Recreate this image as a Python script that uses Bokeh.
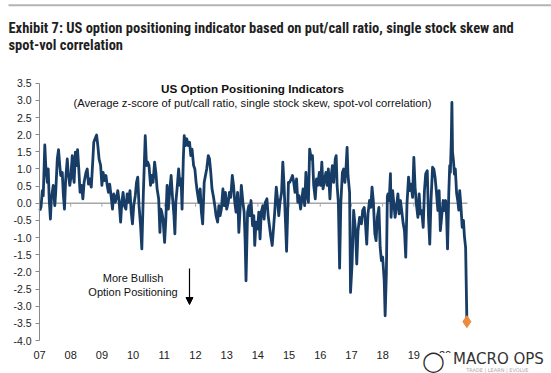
from bokeh.plotting import figure
from bokeh.models import Range1d, FixedTicker, PrintfTickFormatter, Label, Arrow, NormalHead, BoxAnnotation
from bokeh.embed import file_html
from bokeh.resources import INLINE

# ---- data (decimal year, z-score) ----
dates = [
    2007.01, 2007.05, 2007.09, 2007.12, 2007.17, 2007.20, 2007.25, 2007.28, 2007.31, 2007.35,
    2007.38, 2007.44, 2007.49, 2007.52, 2007.57, 2007.61, 2007.65, 2007.68, 2007.73, 2007.76,
    2007.80, 2007.84, 2007.89, 2007.92, 2007.97, 2008.00, 2008.05, 2008.08, 2008.11, 2008.15,
    2008.19, 2008.22, 2008.26, 2008.30, 2008.35, 2008.39, 2008.43, 2008.49, 2008.53, 2008.57,
    2008.61, 2008.66, 2008.70, 2008.74, 2008.78, 2008.83, 2008.87, 2008.91, 2008.96, 2009.00,
    2009.04, 2009.08, 2009.13, 2009.17, 2009.21, 2009.25, 2009.30, 2009.34, 2009.38, 2009.43,
    2009.47, 2009.51, 2009.55, 2009.60, 2009.64, 2009.68, 2009.72, 2009.77, 2009.81, 2009.85,
    2009.90, 2009.94, 2009.98, 2010.02, 2010.07, 2010.11, 2010.15, 2010.19, 2010.24, 2010.28,
    2010.33, 2010.39, 2010.43, 2010.47, 2010.51, 2010.56, 2010.60, 2010.64, 2010.69, 2010.73,
    2010.77, 2010.82, 2010.86, 2010.89, 2010.92, 2010.96, 2011.01, 2011.05, 2011.09, 2011.13,
    2011.18, 2011.22, 2011.26, 2011.31, 2011.34, 2011.37, 2011.41, 2011.46, 2011.50, 2011.54,
    2011.57, 2011.61, 2011.64, 2011.68, 2011.72, 2011.77, 2011.81, 2011.85, 2011.89, 2011.94,
    2011.98, 2012.02, 2012.06, 2012.11, 2012.15, 2012.19, 2012.23, 2012.28, 2012.32, 2012.36,
    2012.41, 2012.45, 2012.49, 2012.53, 2012.58, 2012.62, 2012.66, 2012.71, 2012.75, 2012.79,
    2012.83, 2012.88, 2012.92, 2012.96, 2013.00, 2013.05, 2013.09, 2013.13, 2013.18, 2013.22,
    2013.26, 2013.30, 2013.35, 2013.39, 2013.43, 2013.47, 2013.52, 2013.56, 2013.59, 2013.62,
    2013.67, 2013.71, 2013.74, 2013.78, 2013.83, 2013.87, 2013.90, 2013.94, 2013.99, 2014.03,
    2014.07, 2014.11, 2014.16, 2014.20, 2014.24, 2014.29, 2014.33, 2014.37, 2014.41, 2014.46,
    2014.50, 2014.54, 2014.59, 2014.63, 2014.67, 2014.71, 2014.76, 2014.80, 2014.84, 2014.89,
    2014.92, 2014.95, 2014.98, 2015.02, 2015.07, 2015.11, 2015.15, 2015.19, 2015.24, 2015.28,
    2015.32, 2015.37, 2015.41, 2015.45, 2015.50, 2015.54, 2015.58, 2015.62, 2015.66, 2015.71,
    2015.75, 2015.79, 2015.84, 2015.88, 2015.92, 2015.97, 2016.01, 2016.05, 2016.09, 2016.14,
    2016.18, 2016.22, 2016.26, 2016.31, 2016.35, 2016.39, 2016.43, 2016.48, 2016.51, 2016.54,
    2016.58, 2016.62, 2016.66, 2016.71, 2016.75, 2016.79, 2016.83, 2016.86, 2016.89, 2016.94,
    2016.97, 2017.02, 2017.07, 2017.13, 2017.17, 2017.21, 2017.26, 2017.32, 2017.36, 2017.41,
    2017.45, 2017.49, 2017.53, 2017.58, 2017.62, 2017.66, 2017.70, 2017.75, 2017.79, 2017.83,
    2017.88, 2017.92, 2017.96, 2018.00, 2018.05, 2018.08, 2018.12, 2018.15, 2018.17, 2018.21,
    2018.25, 2018.27, 2018.32, 2018.36, 2018.40, 2018.44, 2018.49, 2018.53, 2018.57, 2018.61,
    2018.66, 2018.70, 2018.74, 2018.78, 2018.83, 2018.87, 2018.91, 2018.96, 2019.00, 2019.04,
    2019.08, 2019.13, 2019.17, 2019.21, 2019.25, 2019.30, 2019.34, 2019.38, 2019.43, 2019.47,
    2019.51, 2019.55, 2019.60, 2019.64, 2019.68, 2019.72, 2019.77, 2019.81, 2019.85, 2019.89,
    2019.94, 2019.98, 2020.02, 2020.05, 2020.08, 2020.12, 2020.15, 2020.17, 2020.20, 2020.22,
    2020.24, 2020.27, 2020.30, 2020.33, 2020.37, 2020.41, 2020.44, 2020.47, 2020.51, 2020.55,
    2020.59, 2020.62, 2020.66, 2020.70,
]
zscores = [
    -0.21, -0.10, 0.37, 0.22, 1.70, 1.10, 0.61, 1.00, 0.13, -0.46,
    0.13, 0.52, -0.07, 0.32, 1.29, 1.56, 1.10, 0.81, 0.90, 0.32,
    -0.17, 0.71, 1.29, 0.90, 0.52, 0.71, 1.39, 0.81, 0.61, 1.49,
    1.10, 1.56, 1.00, 0.32, 0.52, 0.13, 0.61, 0.90, 1.00, 0.56,
    0.71, 0.47, 1.10, 1.78, 1.88, 1.99, 1.68, 1.29, 1.10, 0.52,
    0.90, 0.66, 0.81, 0.52, 0.32, 0.56, 0.17, -0.17, 0.27, 0.03,
    0.17, 0.37, 0.08, -0.55, 0.03, 0.32, -0.07, -0.17, 0.27, 0.03,
    0.37, -0.26, -0.60, -0.07, 0.22, 0.61, 0.76, -0.07, -0.65, -1.33,
    0.32, 1.97, 1.10, 1.20, 1.10, 0.52, 0.81, 0.61, 1.20, 0.90,
    0.42, 0.13, -0.85, -0.17, -0.26, -0.46, -1.14, -0.46, 0.52, -0.17,
    0.42, 0.81, 0.22, -0.36, -0.89, 0.03, 0.42, 1.00, 0.52, 0.71,
    -0.17, 1.29, 1.97, 1.68, 1.88, 1.68, 1.78, 1.39, 1.58, 1.10,
    1.00, 0.61, 0.32, 0.03, 0.42, -0.26, -0.60, 0.61, 0.81, 1.00,
    1.39, 1.29, 0.90, 0.42, 0.17, -0.07, -0.36, -0.55, -0.07, -0.36,
    -0.17, 0.42, -0.07, 0.32, -0.17, 0.03, 0.32, 0.17, 0.81, 0.52,
    0.03, -0.26, 0.32, -0.85, -0.17, 0.52, 0.03, -0.26, -1.04, -2.26,
    -0.26, -0.07, -0.36, 0.08, -0.65, -0.36, -1.23, -0.55, -0.75, -0.26,
    -1.04, -0.26, -0.07, -0.46, 0.03, 0.13, -0.36, -0.65, -0.94, -1.23,
    -0.75, -0.26, 0.47, 0.13, -0.36, 0.03, 0.32, 1.20, 0.52, -0.65,
    -1.40, -0.46, 0.61, 0.61, 0.71, 0.81, 0.61, 0.32, 0.71, 0.03,
    0.22, -0.17, 0.13, 0.42, -0.07, 0.90, 0.22, 0.03, 1.58, 1.29,
    1.39, 0.52, 0.13, 0.71, 0.52, 0.90, 0.52, 1.20, 0.42, 0.71,
    0.90, 0.52, 1.00, 0.13, 0.81, 1.10, 0.61, 1.29, 1.39, 0.52,
    0.03, -1.89, 0.03, 0.90, 1.00, 0.61, 1.10, 1.63, 0.81, 0.32,
    -2.60, -1.77, -0.21, -0.80, -1.77, -0.80, -0.41, -0.60, -0.21, -0.12,
    -0.60, -1.19, -0.31, 0.08, -0.12, 0.47, 0.08, -0.89, -1.09, -0.41,
    -0.12, -1.28, -1.67, -1.57, -2.25, -3.28, -2.00, 0.20, 0.27, 0.08,
    0.86, -0.41, 0.37, -0.02, -0.41, -0.12, 0.27, -0.31, 0.08, -0.21,
    -0.60, -0.80, -1.57, -0.02, 0.76, 0.37, 0.56, 0.17, 1.34, 0.47,
    -0.02, -0.41, 0.27, -0.31, -0.21, -0.70, 0.37, 0.86, 0.95, -0.41,
    -1.19, 0.08, 1.05, 1.00, 0.76, 0.37, -0.21, 0.37, -0.80, -0.41,
    0.08, -0.21, 0.08, -0.40, -1.33, 0.30, 1.10, 0.90, 1.83, 2.94,
    1.50, 1.24, 0.85, 1.00, 0.30, 0.06, -0.20, 0.37, -0.10, -0.70,
    -0.50, -0.95, -1.30, -3.45,
]

year_ticks = [2007, 2008, 2009, 2010, 2011, 2012, 2013, 2014, 2015, 2016, 2017, 2018, 2019, 2020]
year_labels = ["07", "08", "09", "10", "11", "12", "13", "14", "15", "16", "17", "18", "19", "20"]
y_ticks = [-4.0, -3.5, -3.0, -2.5, -2.0, -1.5, -1.0, -0.5, 0.0, 0.5, 1.0, 1.5, 2.0, 2.5, 3.0, 3.5]
x_start, x_end = 2007.0, 2020.72
y_min, y_max = -4.0, 3.5

title_lines = [
    "Exhibit 7: US option positioning indicator based on put/call ratio, single stock skew and",
    "spot-vol correlation",
]
chart_title = "US Option Positioning Indicators"
chart_subtitle = "(Average z-score of put/call ratio, single stock skew, spot-vol correlation)"
note_lines = ["More Bullish", "Option Positioning"]

NAVY = "#173d66"
ORANGE = "#ee8a3c"
FONT = "Liberation Sans"
TITLE_FONT = "Roboto Condensed"
W, H = 551, 373
# pixel box of the chart area inside the canvas
PL, PR, PT, PB = 39, 467, 82.7, 340


def dx(px):
    return x_start + (px - PL) * (x_end - x_start) / (PR - PL)


def dy(py):
    return y_max - (py - PT) * (y_max - y_min) / (PB - PT)


p = figure(width=W, height=H, output_backend="svg", toolbar_location=None, title=None,
           x_range=Range1d(dx(0), dx(W)), y_range=Range1d(dy(H), dy(0)),
           min_border_left=0, min_border_right=0, min_border_top=0, min_border_bottom=0)
p.outline_line_color = None
p.xgrid.visible = False
p.ygrid.visible = False
p.background_fill_color = "white"
p.border_fill_color = "white"

# y axis, drawn at the left edge of the chart area
ya = p.yaxis[0]
ya.fixed_location = x_start
ya.bounds = (y_min, y_max)
ya.ticker = FixedTicker(ticks=y_ticks)
ya.formatter = PrintfTickFormatter(format="%.1f")
ya.axis_line_color = "#8a8a8a"
ya.major_tick_line_color = "#8a8a8a"
ya.major_tick_out = 4
ya.major_tick_in = 0
ya.minor_tick_line_color = None
ya.major_label_text_font = FONT
ya.major_label_text_font_size = "10.5px"
ya.major_label_text_color = "#222222"
ya.major_label_standoff = 4

# x axis labels, below the chart area
xa = p.xaxis[0]
xa.fixed_location = y_min
xa.bounds = (year_ticks[0], year_ticks[-1])
xa.ticker = FixedTicker(ticks=year_ticks)
xa.major_label_overrides = {t: l for t, l in zip(year_ticks, year_labels)}
xa.axis_line_color = None
xa.major_tick_line_color = None
xa.minor_tick_line_color = None
xa.major_label_text_font = FONT
xa.major_label_text_font_size = "11px"
xa.major_label_text_color = "#222222"
xa.major_label_standoff = 4

# zero line with year ticks
p.segment(x0=[x_start], y0=[0], x1=[x_end], y1=[0], line_color="#a6a6a6", line_width=1.5)
p.segment(x0=year_ticks[1:], y0=[0] * (len(year_ticks) - 1), x1=year_ticks[1:],
          y1=[-0.1] * (len(year_ticks) - 1), line_color="#a6a6a6", line_width=1)

# series
p.line(dates, zscores, line_color=NAVY, line_width=2.8, line_join="round")
p.scatter([dates[-1]], [zscores[-1]], marker="diamond", size=12, fill_color=ORANGE,
          line_color=ORANGE)

# top rule
p.segment(x0=[dx(8)], y0=[dy(4.7)], x1=[dx(W)], y1=[dy(4.7)], line_color="#b3b3b3", line_width=2)

# exhibit title
p.add_layout(Label(x=dx(8), y=dy(28.3), text=title_lines[0], text_align="left",
                   text_baseline="alphabetic", text_font=TITLE_FONT,
                   text_font_style="bold", text_font_size="14.5px", text_color="#1f1f1f"))
p.add_layout(Label(x=dx(8), y=dy(45), text=title_lines[1], text_align="left",
                   text_baseline="alphabetic", text_font=TITLE_FONT,
                   text_font_style="bold", text_font_size="14.5px", text_color="#1f1f1f"))

# inner titles
p.add_layout(Label(x=dx(252), y=dy(88), text=chart_title, text_align="center",
                   text_baseline="middle", text_font=FONT, text_font_style="bold",
                   text_font_size="11.7px", text_color="#111111"))
p.add_layout(Label(x=dx(252), y=dy(102), text=chart_subtitle, text_align="center",
                   text_baseline="middle", text_font=FONT, text_font_size="11.2px",
                   text_color="#111111"))

# note + arrow
p.add_layout(Label(x=dx(132.5), y=dy(277), text=note_lines[0], text_align="center",
                   text_baseline="middle", text_font=FONT, text_font_size="11px",
                   text_color="#111111"))
p.add_layout(Label(x=dx(132.5), y=dy(291), text=note_lines[1], text_align="center",
                   text_baseline="middle", text_font=FONT, text_font_size="11px",
                   text_color="#111111"))
p.add_layout(Arrow(end=NormalHead(size=7, fill_color="black", line_color="black"),
                   x_start=dx(189), y_start=dy(268), x_end=dx(189), y_end=dy(304),
                   line_color="black", line_width=1.2))

# logo (covers the lower part of the last year label, as in the source)
p.add_layout(BoxAnnotation(left=dx(424), right=dx(W), top=dy(352.5), bottom=dy(H),
                           fill_color="white", fill_alpha=1.0, line_color=None))
p.add_layout(Label(x=dx(433), y=dy(360), text="\u25EF", text_align="center",
                   text_baseline="middle", text_font="DejaVu Sans", text_font_size="20px",
                   text_color="#2a2a2a"))
p.add_layout(Label(x=dx(498), y=dy(358), text="MACRO OPS", text_align="center",
                   text_baseline="middle", text_font="DejaVu Sans", text_font_size="15px",
                   text_color="#333333"))
p.add_layout(Label(x=dx(500), y=dy(369), text="TRADE  |  LEARN  |  EVOLVE", text_align="center",
                   text_baseline="middle", text_font="DejaVu Sans", text_font_size="5px",
                   text_color="#aaaaaa"))

open("out.html", "w").write(file_html(p, INLINE))
